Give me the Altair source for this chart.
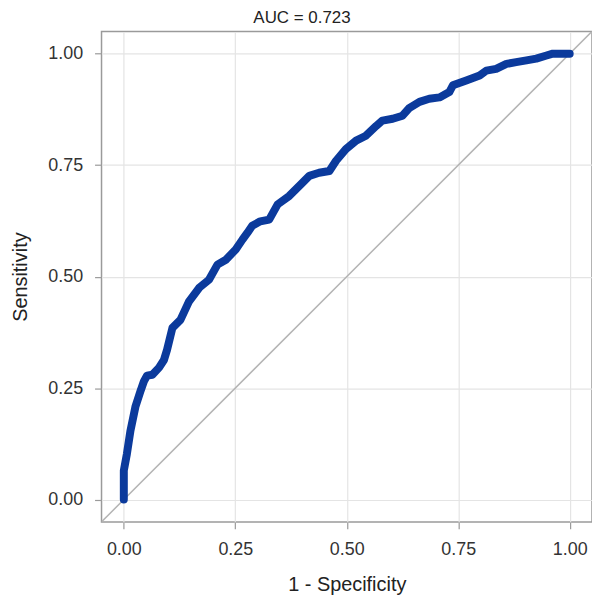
import altair as alt
import pandas as pd

fpr = [0.0, 0.0, 0.007, 0.015, 0.026, 0.038, 0.045, 0.052, 0.064, 0.079, 0.090, 0.097,
       0.109, 0.127, 0.146, 0.169, 0.191, 0.210, 0.229, 0.251, 0.266, 0.277, 0.288,
       0.306, 0.326, 0.345, 0.371, 0.397, 0.416, 0.438, 0.461, 0.476, 0.498, 0.521,
       0.543, 0.566, 0.580, 0.603, 0.625, 0.640, 0.663, 0.685, 0.708, 0.730, 0.738,
       0.768, 0.798, 0.813, 0.835, 0.858, 0.880, 0.903, 0.925, 0.948, 0.962, 0.993, 1.0]
tpr = [0.0, 0.065, 0.103, 0.155, 0.208, 0.245, 0.265, 0.278, 0.280, 0.296, 0.313, 0.336,
       0.385, 0.403, 0.444, 0.475, 0.493, 0.527, 0.538, 0.561, 0.583, 0.598, 0.614,
       0.624, 0.628, 0.662, 0.681, 0.707, 0.726, 0.733, 0.737, 0.760, 0.786, 0.805,
       0.816, 0.838, 0.850, 0.854, 0.861, 0.878, 0.892, 0.899, 0.902, 0.914, 0.929,
       0.940, 0.951, 0.962, 0.966, 0.977, 0.981, 0.985, 0.989, 0.996, 1.0, 1.0, 1.0]
diag = [-0.05, 1.05]
ticks = [0.0, 0.25, 0.5, 0.75, 1.0]
title_text = "AUC = 0.723"

roc = pd.DataFrame({"fpr": fpr, "tpr": tpr, "i": list(range(len(fpr)))})
ref = pd.DataFrame({"a": diag, "b": diag})

xs = alt.Scale(domain=[-0.05, 1.05], nice=False, zero=False)
ys = alt.Scale(domain=[-0.05, 1.05], nice=False, zero=False)

font = "Liberation Sans"
xaxis = alt.Axis(values=ticks, format=".2f", title="1 - Specificity", grid=True,
                 gridColor="#e4e4e4", gridWidth=1.2, domain=False, tickColor="#9a9a9a",
                 tickSize=7, tickWidth=1.2, labelFont=font, labelFontSize=18,
                 labelColor="#333333", labelPadding=12, titleFont=font, titleFontSize=20,
                 titleFontWeight="normal", titleColor="#222222", titlePadding=16)
yaxis = alt.Axis(values=ticks, format=".2f", title="Sensitivity", grid=True,
                 gridColor="#e4e4e4", gridWidth=1.2, domain=False, tickColor="#9a9a9a",
                 tickSize=7, tickWidth=1.2, labelFont=font, labelFontSize=18,
                 labelColor="#333333", labelPadding=12, titleFont=font, titleFontSize=20,
                 titleFontWeight="normal", titleColor="#222222", titlePadding=17)

diag_line = alt.Chart(ref).mark_line(color="#b4b4b4", strokeWidth=1.5, clip=True).encode(
    x=alt.X("a:Q", scale=xs, axis=xaxis),
    y=alt.Y("b:Q", scale=ys, axis=yaxis),
)

curve = alt.Chart(roc).mark_line(color="#0b3a9c", strokeWidth=8, strokeJoin="round",
                                 strokeCap="round").encode(
    x=alt.X("fpr:Q", scale=xs),
    y=alt.Y("tpr:Q", scale=ys),
    order="i:O",
)

chart = (diag_line + curve).properties(
    width=493, height=493,
    title=alt.TitleParams(title_text, font=font, fontSize=17, fontWeight="normal",
                          color="#222222", anchor="middle", offset=4, dx=-45),
    autosize=alt.AutoSizeParams(type="none"),
    padding={"left": 94, "top": 22, "right": 0, "bottom": 77},
).configure_view(stroke="#9a9a9a", strokeWidth=1.5)

chart.save("out.html", embed_options={"renderer": "svg", "actions": False})
